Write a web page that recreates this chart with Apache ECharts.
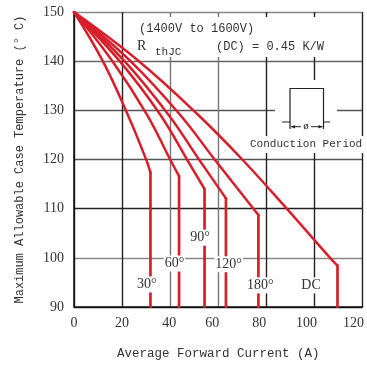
<!DOCTYPE html>
<html><head><meta charset="utf-8">
<script src="https://cdn.jsdelivr.net/npm/echarts@6/dist/echarts.min.js"></script>
<style>html,body{margin:0;padding:0;background:#fff}#c{width:367px;height:366px}</style>
</head><body><div id="c"></div>
<script>
// ---- data ----
const xTicks = [0, 20, 40, 60, 80, 100, 120];
const yTicks = [90, 100, 110, 120, 130, 140, 150];
const seriesNames = ['30°', '60°', '90°', '120°', '180°', 'DC'];
const curve30  = [[0,150],[12.0,140],[22.9,128.5],[30.0,120],[31.8,117.4],[31.8,90]];
const curve60  = [[0,150],[16.0,140],[30.4,129.1],[40.0,120],[43.7,116.6],[43.7,90]];
const curve90  = [[0,150],[19.0,140],[35.9,129.1],[47.0,120],[54.3,114.0],[54.3,90]];
const curve120 = [[0,150],[21.0,140],[39.3,129.1],[52.0,120],[63.2,112.1],[63.2,90]];
const curve180 = [[0,150],[23.5,140],[44.1,129.1],[58.5,120],[76.7,108.7],[76.7,90]];
const curveDC  = [[0,150],[27.0,140],[51.6,129.1],[70.0,120],[88.5,110],[106.5,100],[109.6,98.4],[109.6,90]];
const xTitle = 'Average Forward Current (A)';
const yTitle = 'Maximum Allowable Case Temperature (° C)';

// ---- styling / layout ----
const curves = [curve30, curve60, curve90, curve120, curve180, curveDC];
const labelAt = [[30.3,94.6],[41.8,98.85],[52.4,104.1],[64.3,98.7],[77.5,94.4],[98.6,94.4]];
const xLabelShift = {0:0, 20:0, 40:1, 60:6, 80:7, 100:8, 120:9};
const RED = '#d61f2b';
const MONO = 'Liberation Mono';
const SERIF = 'Liberation Serif';

const rich = {};
xTicks.forEach((v, i) => { rich['t' + i] = { fontFamily: SERIF, fontSize: 14, color: '#333', padding: [0, 2 * xLabelShift[v], 0, 0] }; });

const series = [];
curves.forEach((c, i) => {
  // sloped part (smoothly drawn through the read points)
  series.push({
    type: 'line', name: seriesNames[i], data: c.slice(0, c.length - 1), symbol: 'none', z: 3,
    smooth: 0.4, lineStyle: { color: RED, width: 2.5, cap: 'round', join: 'round' }
  });
  // vertical drop at the maximum current
  series.push({
    type: 'line', name: seriesNames[i], data: c.slice(c.length - 2), symbol: 'none', z: 3,
    lineStyle: { color: RED, width: 2.7, cap: 'round' },
    markPoint: {
      symbol: 'circle', symbolSize: 1, silent: true,
      itemStyle: { color: 'rgba(0,0,0,0)', borderWidth: 0 },
      label: { show: true, position: 'inside', formatter: seriesNames[i], fontFamily: SERIF, fontSize: 14, color: '#333', backgroundColor: '#fff', padding: [1, 1] },
      data: [{ coord: labelAt[i] }]
    }
  });
});

const chart = echarts.init(document.getElementById('c'), null, { renderer: 'canvas' });
chart.setOption({
  animation: false,
  backgroundColor: '#fff',
  grid: { left: 74, right: 0, top: 12, bottom: 59 },
  xAxis: {
    type: 'value', min: xTicks[0], max: xTicks[xTicks.length - 1], interval: 20,
    name: xTitle, nameLocation: 'middle', nameGap: 40,
    nameTextStyle: { fontFamily: MONO, fontSize: 12.5, color: '#333' },
    axisLine: { show: true, lineStyle: { color: '#111', width: 1.5 } },
    axisTick: { show: false },
    axisLabel: {
      margin: 9, showMinLabel: true, showMaxLabel: true,
      formatter: v => '{t' + xTicks.indexOf(v) + '|' + v + '}', rich: rich
    },
    splitLine: { show: true, lineStyle: { color: ['#222', '#222', '#777', '#777', '#222', '#222', '#222'], width: 1.4 } }
  },
  yAxis: {
    type: 'value', min: yTicks[0], max: yTicks[yTicks.length - 1], interval: 10,
    name: yTitle, nameLocation: 'middle', nameGap: 48, nameRotate: 90,
    nameTextStyle: { fontFamily: MONO, fontSize: 12, color: '#333' },
    axisLine: { show: true, lineStyle: { color: '#111', width: 1.5 } },
    axisTick: { show: false },
    axisLabel: { margin: 10, fontFamily: SERIF, fontSize: 14, color: '#333' },
    splitLine: { show: true, lineStyle: { color: ['#222', '#888', '#222', '#555', '#555', '#666', '#888'], width: 1.4 } }
  },
  series: series,
  graphic: [
    { type: 'rect', z: 1, shape: { x: 131, y: 17, width: 209, height: 40 }, style: { fill: '#fff' } },
    { type: 'rect', z: 1, shape: { x: 275, y: 80, width: 62, height: 56 }, style: { fill: '#fff' } },
    { type: 'rect', z: 1, shape: { x: 247, y: 136, width: 120, height: 17 }, style: { fill: '#fff' } },
    { type: 'text', z: 2, x: 139, y: 28.5, style: { text: '(1400V to 1600V)', font: '12px "Liberation Mono"', fill: '#333', verticalAlign: 'middle' } },
    { type: 'text', z: 2, x: 137, y: 46.5, style: { text: 'R', font: '14px "Liberation Serif"', fill: '#333', verticalAlign: 'middle' } },
    { type: 'text', z: 2, x: 155, y: 51.7, style: { text: 'thJC', font: '11px "Liberation Mono"', fill: '#333', verticalAlign: 'middle' } },
    { type: 'text', z: 2, x: 216, y: 46.5, style: { text: '(DC) = 0.45 K/W', font: '12px "Liberation Mono"', fill: '#333', verticalAlign: 'middle' } },
    { type: 'text', z: 2, x: 250, y: 144, style: { text: 'Conduction Period', font: '11px "Liberation Mono"', fill: '#333', verticalAlign: 'middle' } },
    { type: 'polyline', z: 2, shape: { points: [[282,122],[290,122],[290,88.5],[323.5,88.5],[323.5,122],[330,122]] }, style: { stroke: '#222', lineWidth: 1.2, fill: null } },
    { type: 'line', z: 2, shape: { x1: 290, y1: 122, x2: 290, y2: 129 }, style: { stroke: '#222', lineWidth: 1.2 } },
    { type: 'line', z: 2, shape: { x1: 323.5, y1: 122, x2: 323.5, y2: 129 }, style: { stroke: '#222', lineWidth: 1.2 } },
    { type: 'line', z: 2, shape: { x1: 291, y1: 126.7, x2: 301, y2: 126.7 }, style: { stroke: '#222', lineWidth: 1 } },
    { type: 'line', z: 2, shape: { x1: 311, y1: 126.7, x2: 322.5, y2: 126.7 }, style: { stroke: '#222', lineWidth: 1 } },
    { type: 'polygon', z: 2, shape: { points: [[291,126.7],[295,125],[295,128.4]] }, style: { fill: '#222' } },
    { type: 'polygon', z: 2, shape: { points: [[322.5,126.7],[318.5,125],[318.5,128.4]] }, style: { fill: '#222' } },
    { type: 'text', z: 2, x: 306, y: 126.5, style: { text: 'ø', font: '11px "Liberation Serif"', fill: '#222', align: 'center', verticalAlign: 'middle' } }
  ]
});
</script>
</body></html>
